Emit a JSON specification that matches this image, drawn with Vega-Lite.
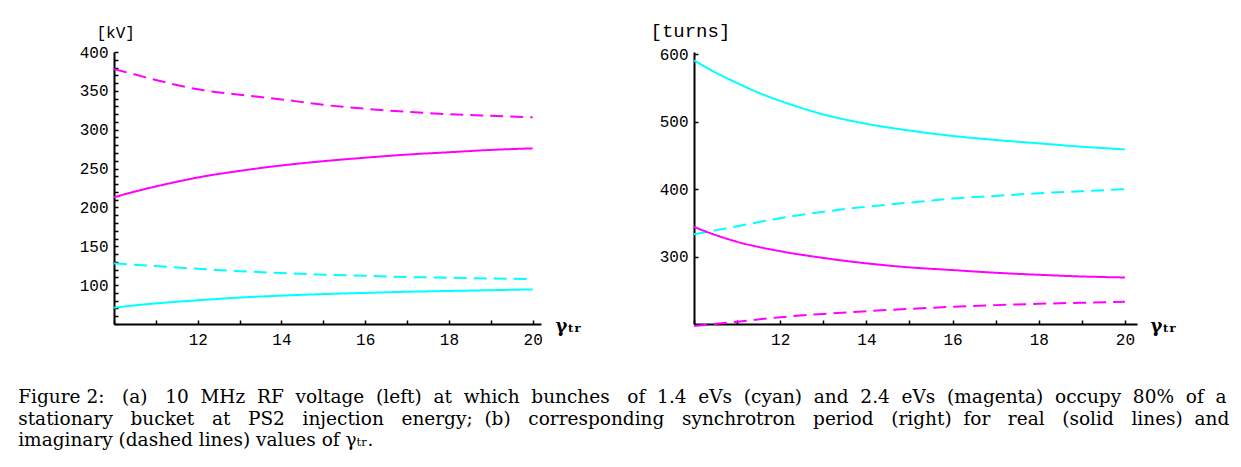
{
  "$schema": "https://vega.github.io/schema/vega-lite/v6.json",
  "background": "white",
  "padding": {"left": 18, "top": 21, "right": 5, "bottom": 5},
  "spacing": 69,
  "datasets": {
    "voltage": [
      {"g": 10, "v": 378, "c": "2.4 eVs", "k": "imaginary"},
      {"g": 10.5, "v": 371, "c": "2.4 eVs", "k": "imaginary"},
      {"g": 11, "v": 364, "c": "2.4 eVs", "k": "imaginary"},
      {"g": 11.5, "v": 357.5, "c": "2.4 eVs", "k": "imaginary"},
      {"g": 12, "v": 352, "c": "2.4 eVs", "k": "imaginary"},
      {"g": 13, "v": 345, "c": "2.4 eVs", "k": "imaginary"},
      {"g": 14, "v": 339, "c": "2.4 eVs", "k": "imaginary"},
      {"g": 15, "v": 332, "c": "2.4 eVs", "k": "imaginary"},
      {"g": 16, "v": 327, "c": "2.4 eVs", "k": "imaginary"},
      {"g": 17, "v": 323, "c": "2.4 eVs", "k": "imaginary"},
      {"g": 18, "v": 320, "c": "2.4 eVs", "k": "imaginary"},
      {"g": 19, "v": 318, "c": "2.4 eVs", "k": "imaginary"},
      {"g": 20, "v": 316, "c": "2.4 eVs", "k": "imaginary"},
      {"g": 10, "v": 213, "c": "2.4 eVs", "k": "real"},
      {"g": 10.5, "v": 220.5, "c": "2.4 eVs", "k": "real"},
      {"g": 11, "v": 227, "c": "2.4 eVs", "k": "real"},
      {"g": 11.5, "v": 233, "c": "2.4 eVs", "k": "real"},
      {"g": 12, "v": 238.5, "c": "2.4 eVs", "k": "real"},
      {"g": 13, "v": 247, "c": "2.4 eVs", "k": "real"},
      {"g": 14, "v": 254, "c": "2.4 eVs", "k": "real"},
      {"g": 15, "v": 259.5, "c": "2.4 eVs", "k": "real"},
      {"g": 16, "v": 264, "c": "2.4 eVs", "k": "real"},
      {"g": 17, "v": 268, "c": "2.4 eVs", "k": "real"},
      {"g": 18, "v": 271, "c": "2.4 eVs", "k": "real"},
      {"g": 19, "v": 274, "c": "2.4 eVs", "k": "real"},
      {"g": 20, "v": 276, "c": "2.4 eVs", "k": "real"},
      {"g": 10, "v": 128, "c": "1.4 eVs", "k": "imaginary"},
      {"g": 11, "v": 124.5, "c": "1.4 eVs", "k": "imaginary"},
      {"g": 12, "v": 121, "c": "1.4 eVs", "k": "imaginary"},
      {"g": 13, "v": 118, "c": "1.4 eVs", "k": "imaginary"},
      {"g": 14, "v": 115.5, "c": "1.4 eVs", "k": "imaginary"},
      {"g": 15, "v": 113.5, "c": "1.4 eVs", "k": "imaginary"},
      {"g": 16, "v": 112, "c": "1.4 eVs", "k": "imaginary"},
      {"g": 17, "v": 110.5, "c": "1.4 eVs", "k": "imaginary"},
      {"g": 18, "v": 109.5, "c": "1.4 eVs", "k": "imaginary"},
      {"g": 19, "v": 108.5, "c": "1.4 eVs", "k": "imaginary"},
      {"g": 20, "v": 108, "c": "1.4 eVs", "k": "imaginary"},
      {"g": 10, "v": 71, "c": "1.4 eVs", "k": "real"},
      {"g": 10.5, "v": 74, "c": "1.4 eVs", "k": "real"},
      {"g": 11, "v": 76.5, "c": "1.4 eVs", "k": "real"},
      {"g": 12, "v": 80.5, "c": "1.4 eVs", "k": "real"},
      {"g": 13, "v": 84, "c": "1.4 eVs", "k": "real"},
      {"g": 14, "v": 86.5, "c": "1.4 eVs", "k": "real"},
      {"g": 15, "v": 88.5, "c": "1.4 eVs", "k": "real"},
      {"g": 16, "v": 90, "c": "1.4 eVs", "k": "real"},
      {"g": 17, "v": 91.5, "c": "1.4 eVs", "k": "real"},
      {"g": 18, "v": 92.5, "c": "1.4 eVs", "k": "real"},
      {"g": 19, "v": 93.5, "c": "1.4 eVs", "k": "real"},
      {"g": 20, "v": 94.5, "c": "1.4 eVs", "k": "real"}
    ],
    "period": [
      {"g": 10, "v": 591, "c": "1.4 eVs", "k": "real"},
      {"g": 10.5, "v": 573, "c": "1.4 eVs", "k": "real"},
      {"g": 11, "v": 557.5, "c": "1.4 eVs", "k": "real"},
      {"g": 11.5, "v": 543, "c": "1.4 eVs", "k": "real"},
      {"g": 12, "v": 531, "c": "1.4 eVs", "k": "real"},
      {"g": 13, "v": 511, "c": "1.4 eVs", "k": "real"},
      {"g": 14, "v": 497, "c": "1.4 eVs", "k": "real"},
      {"g": 15, "v": 487, "c": "1.4 eVs", "k": "real"},
      {"g": 16, "v": 479, "c": "1.4 eVs", "k": "real"},
      {"g": 17, "v": 473, "c": "1.4 eVs", "k": "real"},
      {"g": 18, "v": 468, "c": "1.4 eVs", "k": "real"},
      {"g": 19, "v": 463, "c": "1.4 eVs", "k": "real"},
      {"g": 20, "v": 459, "c": "1.4 eVs", "k": "real"},
      {"g": 10, "v": 333, "c": "1.4 eVs", "k": "imaginary"},
      {"g": 11, "v": 345, "c": "1.4 eVs", "k": "imaginary"},
      {"g": 12, "v": 357, "c": "1.4 eVs", "k": "imaginary"},
      {"g": 13, "v": 366.5, "c": "1.4 eVs", "k": "imaginary"},
      {"g": 14, "v": 374, "c": "1.4 eVs", "k": "imaginary"},
      {"g": 15, "v": 380, "c": "1.4 eVs", "k": "imaginary"},
      {"g": 16, "v": 386, "c": "1.4 eVs", "k": "imaginary"},
      {"g": 17, "v": 390, "c": "1.4 eVs", "k": "imaginary"},
      {"g": 18, "v": 394, "c": "1.4 eVs", "k": "imaginary"},
      {"g": 19, "v": 397, "c": "1.4 eVs", "k": "imaginary"},
      {"g": 20, "v": 400, "c": "1.4 eVs", "k": "imaginary"},
      {"g": 10, "v": 344, "c": "2.4 eVs", "k": "real"},
      {"g": 10.5, "v": 332, "c": "2.4 eVs", "k": "real"},
      {"g": 11, "v": 322, "c": "2.4 eVs", "k": "real"},
      {"g": 12, "v": 308, "c": "2.4 eVs", "k": "real"},
      {"g": 13, "v": 298, "c": "2.4 eVs", "k": "real"},
      {"g": 14, "v": 290, "c": "2.4 eVs", "k": "real"},
      {"g": 15, "v": 284, "c": "2.4 eVs", "k": "real"},
      {"g": 16, "v": 280, "c": "2.4 eVs", "k": "real"},
      {"g": 17, "v": 276, "c": "2.4 eVs", "k": "real"},
      {"g": 18, "v": 273, "c": "2.4 eVs", "k": "real"},
      {"g": 19, "v": 270.5, "c": "2.4 eVs", "k": "real"},
      {"g": 20, "v": 269, "c": "2.4 eVs", "k": "real"},
      {"g": 10, "v": 197, "c": "2.4 eVs", "k": "imaginary"},
      {"g": 11, "v": 203.5, "c": "2.4 eVs", "k": "imaginary"},
      {"g": 12, "v": 210, "c": "2.4 eVs", "k": "imaginary"},
      {"g": 13, "v": 215, "c": "2.4 eVs", "k": "imaginary"},
      {"g": 14, "v": 219, "c": "2.4 eVs", "k": "imaginary"},
      {"g": 15, "v": 222.5, "c": "2.4 eVs", "k": "imaginary"},
      {"g": 16, "v": 225.5, "c": "2.4 eVs", "k": "imaginary"},
      {"g": 17, "v": 228, "c": "2.4 eVs", "k": "imaginary"},
      {"g": 18, "v": 230, "c": "2.4 eVs", "k": "imaginary"},
      {"g": 19, "v": 231.5, "c": "2.4 eVs", "k": "imaginary"},
      {"g": 20, "v": 233, "c": "2.4 eVs", "k": "imaginary"}
    ]
  },
  "title": {
    "text": [
      "Figure 2: \u00a0\u00a0(a) \u00a0\u00a010 \u00a0MHz \u00a0RF \u00a0voltage \u00a0(left) \u00a0at \u00a0which \u00a0bunches \u00a0\u00a0of \u00a01.4 \u00a0eVs \u00a0(cyan) \u00a0and \u00a02.4 \u00a0eVs \u00a0(magenta) \u00a0occupy \u00a080% \u00a0of \u00a0a",
      "stationary \u00a0\u00a0bucket \u00a0\u00a0at \u00a0\u00a0PS2 \u00a0\u00a0injection \u00a0\u00a0energy; \u00a0(b) \u00a0\u00a0corresponding \u00a0\u00a0synchrotron \u00a0\u00a0period \u00a0\u00a0(right) \u00a0for \u00a0\u00a0real \u00a0\u00a0(solid \u00a0\u00a0lines) \u00a0and",
      "imaginary (dashed lines) values of γₜᵣ."
    ],
    "orient": "bottom",
    "anchor": "start",
    "frame": "bounds",
    "dx": -61,
    "offset": 41,
    "font": "DejaVu Serif",
    "fontSize": 18.5,
    "fontWeight": "normal",
    "lineHeight": 21.5,
    "color": "black"
  },
  "hconcat": [
    {
      "width": 427,
      "height": 272,
      "data": {"name": "voltage"},
      "mark": {"type": "line", "strokeWidth": 2, "interpolate": "monotone"},
      "encoding": {
        "x": {
          "field": "g", "type": "quantitative",
          "scale": {"domain": [10, 20.2], "nice": false, "zero": false},
          "axis": {
            "title": "γₜᵣ",
            "format": "d",
            "values": [10, 10.5, 11, 11.5, 12, 12.5, 13, 13.5, 14, 14.5, 15, 15.5, 16, 16.5, 17, 17.5, 18, 18.5, 19, 19.5, 20],
            "labelExpr": "(datum.value % 2 == 0 && datum.value > 10) ? datum.label : ''",
            "titleAlign": "left", "titleAnchor": "start", "titleBaseline": "alphabetic",
            "titleX": 441, "titleY": 7
          }
        },
        "y": {
          "field": "v", "type": "quantitative",
          "scale": {"domain": [50, 400], "nice": false, "zero": false},
          "axis": {
            "title": "[kV]",
            "values": [50, 60, 70, 80, 90, 100, 110, 120, 130, 140, 150, 160, 170, 180, 190, 200, 210, 220, 230, 240, 250, 260, 270, 280, 290, 300, 310, 320, 330, 340, 350, 360, 370, 380, 390, 400],
            "labelExpr": "(datum.value % 50 == 0 && datum.value > 50) ? datum.label : ''",
            "titleAngle": 0, "titleAlign": "left", "titleBaseline": "alphabetic",
            "titleFontSize": 16,
            "titleX": -18, "titleY": -15
          }
        },
        "color": {"field": "c", "type": "nominal", "scale": {"domain": ["1.4 eVs", "2.4 eVs"], "range": ["#00ffff", "#ff00ff"]}, "legend": null},
        "strokeDash": {"field": "k", "type": "nominal", "scale": {"domain": ["real", "imaginary"], "range": [[1, 0], [13, 7]]}, "legend": null}
      }
    },
    {
      "width": 443,
      "height": 272,
      "data": {"name": "period"},
      "mark": {"type": "line", "strokeWidth": 2, "interpolate": "monotone"},
      "encoding": {
        "x": {
          "field": "g", "type": "quantitative",
          "scale": {"domain": [10, 20.28], "nice": false, "zero": false},
          "axis": {
            "title": "γₜᵣ",
            "format": "d",
            "values": [10, 10.5, 11, 11.5, 12, 12.5, 13, 13.5, 14, 14.5, 15, 15.5, 16, 16.5, 17, 17.5, 18, 18.5, 19, 19.5, 20],
            "labelExpr": "(datum.value % 2 == 0 && datum.value > 10) ? datum.label : ''",
            "titleAlign": "left", "titleAnchor": "start", "titleBaseline": "alphabetic",
            "titleX": 456, "titleY": 7
          }
        },
        "y": {
          "field": "v", "type": "quantitative",
          "scale": {"domain": [200, 603.5], "nice": false, "zero": false},
          "axis": {
            "title": "[turns]",
            "values": [300, 400, 500, 600],
            "titleAngle": 0, "titleAlign": "left", "titleBaseline": "alphabetic",
            "titleFontSize": 19,
            "titleX": -44, "titleY": -16
          }
        },
        "color": {"field": "c", "type": "nominal", "scale": {"domain": ["1.4 eVs", "2.4 eVs"], "range": ["#00ffff", "#ff00ff"]}, "legend": null},
        "strokeDash": {"field": "k", "type": "nominal", "scale": {"domain": ["real", "imaginary"], "range": [[1, 0], [13, 7]]}, "legend": null}
      }
    }
  ],
  "resolve": {"scale": {"color": "shared", "strokeDash": "shared"}},
  "config": {
    "view": {"stroke": null},
    "axis": {
      "grid": false,
      "domainColor": "black",
      "domainWidth": 2,
      "tickColor": "black",
      "tickWidth": 1.5,
      "tickSize": -4,
      "labelFont": "Liberation Mono",
      "labelFontSize": 16,
      "labelColor": "black",
      "labelPadding": 10,
      "labelFlush": false,
      "labelOverlap": false,
      "titleFont": "Liberation Mono",
      "titleFontWeight": "normal",
      "titleColor": "black"
    },
    "axisX": {"titleFont": "DejaVu Serif", "titleFontSize": 18, "titleFontWeight": "bold", "labelPadding": 11}
  }
}
